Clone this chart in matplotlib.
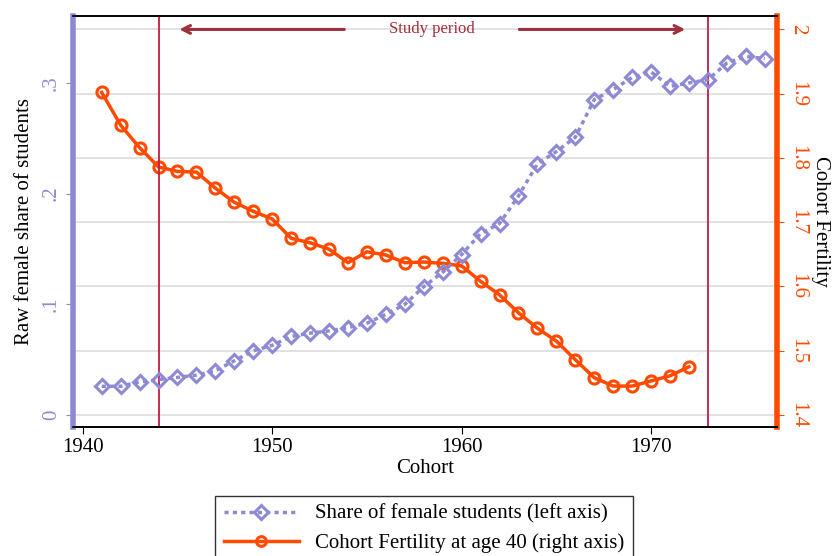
import matplotlib
matplotlib.use("Agg")
import matplotlib.pyplot as plt
from matplotlib.lines import Line2D

plt.rcParams['font.family'] = ['Liberation Serif', 'DejaVu Serif']

# ------------------------- Data -------------------------
cohort = list(range(1941, 1977))
female_share = [0.026, 0.026, 0.030, 0.032, 0.034, 0.036, 0.040, 0.049, 0.058, 0.063,
                0.071, 0.074, 0.076, 0.079, 0.083, 0.091, 0.100, 0.116, 0.129, 0.145,
                0.164, 0.173, 0.198, 0.227, 0.238, 0.251, 0.285, 0.294, 0.305, 0.310,
                0.297, 0.300, 0.303, 0.318, 0.324, 0.322]

cohort_fert = list(range(1941, 1973))
fertility = [1.902, 1.851, 1.816, 1.786, 1.779, 1.778, 1.753, 1.731, 1.717, 1.705,
             1.675, 1.668, 1.658, 1.637, 1.654, 1.649, 1.637, 1.638, 1.636, 1.632,
             1.608, 1.587, 1.559, 1.535, 1.515, 1.486, 1.458, 1.445, 1.445, 1.453,
             1.461, 1.475]

study_start, study_end = 1944, 1973
xticks = [1940, 1950, 1960, 1970]
left_ticks = [0, 0.1, 0.2, 0.3]
left_labels = ['0', '.1', '.2', '.3']
right_ticks = [1.4, 1.5, 1.6, 1.7, 1.8, 1.9, 2.0]
right_labels = ['1.4', '1.5', '1.6', '1.7', '1.8', '1.9', '2']

LAV = '#8E89D4'
ORG = '#FF4A00'
VLINE = '#C41A45'
ARR = '#9E2F3C'
FS = 15

# ------------------------- Plot -------------------------
fig = plt.figure(figsize=(8.33, 5.56), dpi=100)
ax = fig.add_axes([0.0873, 0.232, 0.8451, 0.739])
ax2 = ax.twinx()

ax.set_xlim(1939.47, 1976.63)
ax.set_ylim(-0.0108, 0.3604)
ax2.set_ylim(1.3813, 2.0207)

# grid follows right axis
for v in right_ticks:
    ax2.axhline(v, color='#DCDCDC', lw=1.2, zorder=0)

ax.axvline(study_start, color=VLINE, lw=1.3, zorder=1)
ax.axvline(study_end, color=VLINE, lw=1.3, zorder=1)

ax.plot(cohort, female_share, color=LAV, ls=(0, (1.2, 1.2)), lw=2.5,
        marker='D', markersize=7, mfc='none', mec=LAV, mew=2.2, zorder=3)
ax2.plot(cohort_fert, fertility, color=ORG, lw=2.5,
         marker='o', markersize=8, mfc='none', mec=ORG, mew=2.2, zorder=3)

# study period annotation
ax2.annotate('', xy=(1944.95, 2.0), xytext=(1953.95, 2.0),
             arrowprops=dict(arrowstyle='->', color=ARR, lw=2.2, mutation_scale=14))
ax2.annotate('', xy=(1971.95, 2.0), xytext=(1962.9, 2.0),
             arrowprops=dict(arrowstyle='->', color=ARR, lw=2.2, mutation_scale=14))
ax2.text(1958.45, 2.0, 'Study period', color=ARR, ha='center', va='center', fontsize=12)

# axes styling
ax.set_xticks(xticks)
ax.tick_params(axis='x', labelsize=FS, length=5, color='black', pad=3)
ax.set_xlabel('Cohort', fontsize=FS, labelpad=1)

ax.set_yticks(left_ticks)
ax.set_yticklabels(left_labels, rotation=90, va='center', color=LAV, fontsize=FS)
ax.tick_params(axis='y', colors=LAV, length=5)
ax.set_ylabel('Raw female share of students', fontsize=FS, labelpad=6)

ax2.set_yticks(right_ticks)
ax2.set_yticklabels(right_labels, rotation=-90, va='center', color=ORG, fontsize=FS)
ax2.tick_params(axis='y', colors=ORG, length=5)
ax2.set_ylabel('Cohort Fertility', fontsize=FS, rotation=-90, labelpad=16)

ax.spines['left'].set_color(LAV)
ax.spines['left'].set_linewidth(4)
ax2.spines['left'].set_visible(False)
ax2.spines['right'].set_color(ORG)
ax2.spines['right'].set_linewidth(4)
ax.spines['right'].set_visible(False)
for a in (ax, ax2):
    a.spines['top'].set_linewidth(1.2)
    a.spines['bottom'].set_linewidth(1.2)
ax.set_zorder(ax2.get_zorder() + 1)
ax.patch.set_visible(False)

handles = [
    Line2D([], [], color=LAV, ls=(0, (1.2, 1.2)), lw=2.5, marker='D', markersize=7,
           mfc='none', mec=LAV, mew=2.2),
    Line2D([], [], color=ORG, lw=2.5, marker='o', markersize=7, mfc='none', mec=ORG, mew=2.2),
]
labels = ['Share of female students (left axis)', 'Cohort Fertility at age 40 (right axis)']
leg = fig.legend(handles, labels, loc='upper center', bbox_to_anchor=(0.509, 0.108),
                 fontsize=FS, frameon=True, fancybox=False, edgecolor='black',
                 handlelength=3.6, borderpad=0.4, labelspacing=0.45, borderaxespad=0)
leg.get_frame().set_linewidth(1.0)

fig.savefig('out.png', dpi=100)
